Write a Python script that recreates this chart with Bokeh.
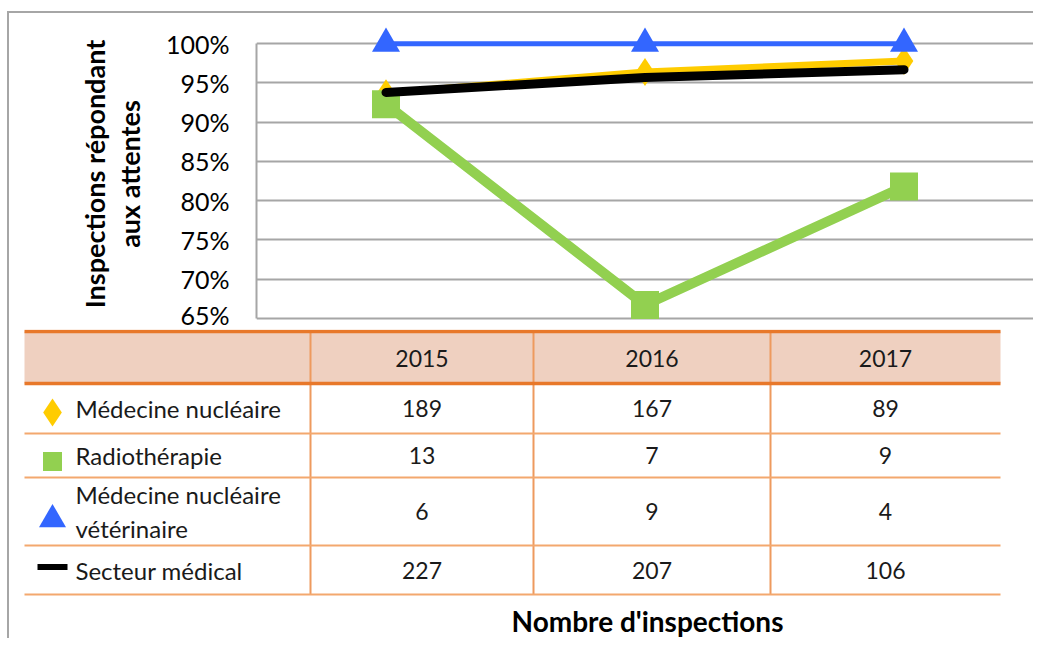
from bokeh.plotting import figure
from bokeh.models import FactorRange, Range1d, FixedTicker, PrintfTickFormatter, ColumnDataSource, Spacer
from bokeh.layouts import column
from bokeh.core.properties import value
from bokeh.embed import file_html
from bokeh.resources import INLINE

# ---------------- data ----------------
years = ["2015", "2016", "2017"]
series_names = ["Médecine nucléaire", "Radiothérapie",
                "Médecine nucléaire\nvétérinaire", "Secteur médical"]
pct_med_nuc = [93.7, 96.4, 97.8]
pct_radio = [92.3, 66.7, 81.8]
pct_veto = [100.0, 100.0, 100.0]
pct_secteur = [93.8, 95.7, 96.7]
n_med_nuc = [189, 167, 89]
n_radio = [13, 7, 9]
n_veto = [6, 9, 4]
n_secteur = [227, 207, 106]
y_ticks = [65, 70, 75, 80, 85, 90, 95, 100]
y_title = "Inspections répondant\naux attentes"
x_title = "Nombre d'inspections"

# ---------------- styles ----------------
FONT = "Lato"
C_YEL = "#FFCC00"
C_GRN = "#92D050"
C_BLU = "#3366FF"
C_BLK = "#000000"
C_GRID = "#A6A6A6"
C_TXT = "#1A1A1A"


def blank(fig):
    fig.axis.visible = False
    fig.grid.visible = False
    fig.outline_line_color = None


# ---------------- top border strip ----------------
strip = Spacer(width=1024, height=2, margin=0, styles={"background-color": C_GRID})

# ---------------- chart ----------------
p = figure(width=1024, height=316, x_range=FactorRange(*years, range_padding=0),
           y_range=Range1d(64.6, 102.2), output_backend="svg", toolbar_location=None,
           min_border_left=247, min_border_right=0, min_border_top=13, min_border_bottom=8,
           frame_align=False)
p.outline_line_color = None
p.xaxis.visible = False
p.xgrid.visible = False
p.ygrid.ticker = FixedTicker(ticks=y_ticks)
p.ygrid.grid_line_color = C_GRID
p.ygrid.grid_line_width = 2
ax = p.yaxis[0]
ax.ticker = FixedTicker(ticks=y_ticks)
ax.formatter = PrintfTickFormatter(format="%d%%")
ax.bounds = (65, 100)
ax.axis_line_color = C_GRID
ax.axis_line_width = 2
ax.major_tick_line_color = None
ax.minor_tick_line_color = None
ax.major_label_standoff = 21
ax.major_label_text_font = FONT
ax.major_label_text_font_size = "25px"
ax.major_label_text_color = "#000000"
ax.axis_label = y_title
ax.axis_label_text_font = FONT
ax.axis_label_text_font_style = "bold"
ax.axis_label_text_font_size = "27px"
ax.axis_label_text_line_height = 1.05
ax.axis_label_standoff = 17
ax.axis_label_text_color = "#000000"

src = ColumnDataSource(dict(x=years, med=pct_med_nuc, rad=pct_radio, vet=pct_veto, sec=pct_secteur))
p.line("x", "med", source=src, line_color=C_YEL, line_width=7, line_join="round")
p.scatter("x", "med", source=src, marker="diamond", size=28, fill_color=C_YEL, line_color=None)
p.line("x", "rad", source=src, line_color=C_GRN, line_width=10, line_join="round")
p.scatter("x", "rad", source=src, marker="square", size=28, fill_color=C_GRN, line_color=None)
p.line("x", "sec", source=src, line_color=C_BLK, line_width=9, line_cap="round", line_join="round")
p.line("x", "vet", source=src, line_color=C_BLU, line_width=5)
p.scatter("x", "vet", source=src, marker="triangle", size=28, fill_color=C_BLU, line_color=None)

# ---------------- table (page-pixel layout) ----------------
t = figure(width=1024, height=309, x_range=Range1d(9, 1033), y_range=Range1d(638, 329),
           output_backend="svg", toolbar_location=None, frame_align=False,
           min_border=0, min_border_left=0, min_border_right=0, min_border_top=0, min_border_bottom=0)
blank(t)

tbl_left, tbl_right = 24, 1000
col_edges = [310, 533, 770, 1000]
head_top, head_bot = 331, 383
row_bots = [433, 477, 545, 594]
row_tops = [head_bot] + row_bots[:-1]
row_mid = [(a + b) / 2 for a, b in zip(row_tops, row_bots)]
col_mid = [(col_edges[i] + col_edges[i + 1]) / 2 for i in range(3)]

t.quad(left=[tbl_left], right=[tbl_right], top=[head_top], bottom=[head_bot],
       fill_color="#EFD0C0", line_color=None)
t.segment(x0=col_edges[:3], x1=col_edges[:3], y0=[head_top] * 3, y1=[row_bots[-1]] * 3,
          line_color="#EE9A5E", line_width=2)
t.segment(x0=[tbl_left] * 4, x1=[tbl_right] * 4, y0=row_bots, y1=row_bots,
          line_color="#F3A86E", line_width=2)
t.segment(x0=[tbl_left] * 2, x1=[tbl_right] * 2, y0=[head_top, head_bot], y1=[head_top, head_bot],
          line_color="#E8782A", line_width=3.5)

t.text(x=col_mid, y=[(head_top + head_bot) / 2 + 1] * 3, text=years, text_align="center",
       text_baseline="middle", text_font=value(FONT), text_font_size="23px", text_color=C_TXT)
t.text(x=[75] * 4, y=row_mid, text=series_names, text_align="left", text_baseline="middle",
       text_font=value(FONT), text_font_size="24px", text_color=C_TXT, text_line_height=1.15)
counts = [n_med_nuc, n_radio, n_veto, n_secteur]
xs, ys, txt = [], [], []
for r, row in enumerate(counts):
    for c, v in enumerate(row):
        xs.append(col_mid[c]); ys.append(row_mid[r]); txt.append(str(v))
t.text(x=xs, y=ys, text=txt, text_align="center", text_baseline="middle",
       text_font=value(FONT), text_font_size="23px", text_color=C_TXT)

# legend symbols
t.scatter(x=[52], y=[row_mid[0] + 4], marker="diamond", size=28, fill_color=C_YEL, line_color=None)
t.scatter(x=[52], y=[row_mid[1] + 6], marker="square", size=19, fill_color=C_GRN, line_color=None)
t.scatter(x=[52], y=[row_mid[2] + 8], marker="triangle", size=27, fill_color=C_BLU, line_color=None)
t.segment(x0=[37], x1=[67], y0=[row_mid[3] - 3], y1=[row_mid[3] - 3], line_color=C_BLK, line_width=6)

t.text(x=[647], y=[620], text=[x_title], text_align="center",
       text_baseline="middle", text_font=value(FONT), text_font_style="bold",
       text_font_size="28px", text_color="#000000")

layout = column(strip, p, t, spacing=0,
                styles={"border-left": "2px solid #A6A6A6",
                        "margin-left": "7px", "margin-top": "11px"})

open("out.html", "w").write(file_html(layout, INLINE))
